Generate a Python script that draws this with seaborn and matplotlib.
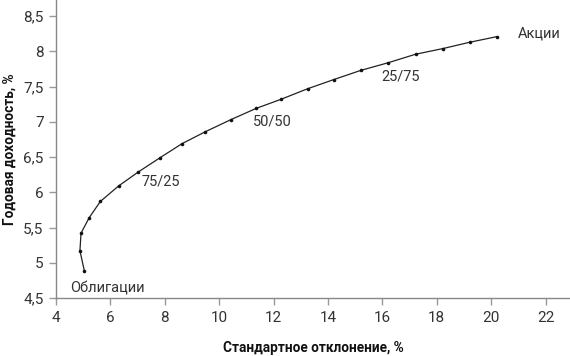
import matplotlib
matplotlib.use("Agg")
import matplotlib.pyplot as plt
import matplotlib.ticker as mticker
import seaborn as sns
import pandas as pd

std_dev = [5.04, 4.88, 4.92, 5.22, 5.63, 6.30, 7.03, 7.82, 8.63, 9.49, 10.42,
           11.35, 12.27, 13.25, 14.21, 15.20, 16.22, 17.22, 18.22, 19.21, 20.21]
annual_return = [4.89, 5.17, 5.42, 5.64, 5.87, 6.09, 6.29, 6.49, 6.69, 6.86, 7.03,
                 7.19, 7.32, 7.47, 7.60, 7.73, 7.84, 7.96, 8.04, 8.13, 8.21]

label_texts = ["Облигации", "75/25", "50/50", "25/75", "Акции"]
label_x = [5.9, 7.87, 11.94, 16.68, 21.76]
label_y = [4.64, 6.15, 7.01, 7.65, 8.25]

x_ticks = [4, 6, 8, 10, 12, 14, 16, 18, 20, 22]
y_ticks = [4.5, 5, 5.5, 6, 6.5, 7, 7.5, 8, 8.5]

df = pd.DataFrame({"sd": std_dev, "ret": annual_return})

sns.set_style("white")
plt.rcParams['font.family'] = ['Roboto', 'DejaVu Sans']

fig = plt.figure(figsize=(5.7, 3.56), dpi=100)
ax = fig.add_axes([56/570, 58/356, 1 - 56/570, 1 - 58/356])

sns.lineplot(data=df, x="sd", y="ret", sort=False, ax=ax, color="#222222",
             linewidth=0.9, marker="o", markersize=2.6, markeredgewidth=0,
             markerfacecolor="#111111")

for t, x, y in zip(label_texts, label_x, label_y):
    ax.text(x, y, t, ha="center", va="center", fontsize=10.5, color="#333333")

ax.set_xlim(4, 22.9)
ax.set_ylim(4.5, 8.73)
ax.set_xticks(x_ticks)
ax.set_yticks(y_ticks)
fmt = mticker.FuncFormatter(lambda v, p: (f"{v:g}").replace(".", ","))
ax.xaxis.set_major_formatter(fmt)
ax.yaxis.set_major_formatter(fmt)

for s in ["top", "right"]:
    ax.spines[s].set_visible(False)
for s in ["left", "bottom"]:
    ax.spines[s].set_color("#888888")
    ax.spines[s].set_linewidth(1.0)

ax.tick_params(axis="both", which="major", direction="out", length=5, width=1,
               color="#999999", labelsize=11, labelcolor="#333333", pad=4,
               bottom=True, left=True)

ax.set_xlabel("Стандартное отклонение, %", fontsize=9.8, fontweight="bold",
              color="#111111", labelpad=12)
ax.set_ylabel("Годовая доходность, %", fontsize=9.8, fontweight="bold",
              color="#111111", labelpad=5)

fig.savefig("out.png", dpi=100)
